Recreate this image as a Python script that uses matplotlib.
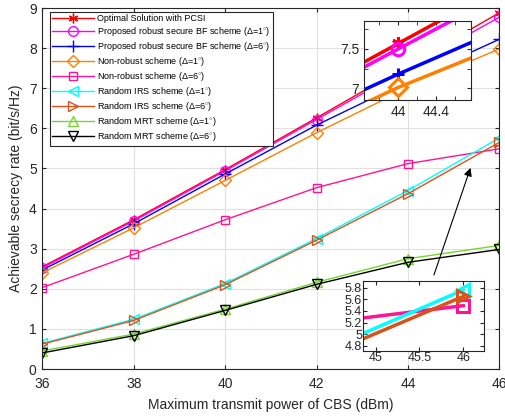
import matplotlib
matplotlib.use("Agg")
import matplotlib.pyplot as plt

plt.rcParams['font.family'] = ['Liberation Sans', 'DejaVu Sans']
plt.rcParams['mathtext.fontset'] = 'custom'
plt.rcParams['mathtext.rm'] = 'Liberation Sans'
plt.rcParams['mathtext.it'] = 'Liberation Sans:italic'

power = [36, 38, 40, 42, 44, 46]
optimal = [2.55, 3.72, 4.97, 6.26, 7.57, 8.88]
prop_d1 = [2.52, 3.69, 4.94, 6.22, 7.50, 8.77]
prop_d6 = [2.47, 3.62, 4.86, 6.08, 7.18, 8.22]
nonrob_d1 = [2.40, 3.52, 4.70, 5.89, 7.01, 7.98]
nonrob_d6 = [2.03, 2.86, 3.72, 4.52, 5.12, 5.49]
rirs_d1 = [0.64, 1.24, 2.13, 3.25, 4.45, 5.76]
rirs_d6 = [0.62, 1.21, 2.10, 3.21, 4.37, 5.65]
rmrt_d1 = [0.45, 0.87, 1.49, 2.16, 2.75, 3.08]
rmrt_d6 = [0.40, 0.83, 1.46, 2.11, 2.66, 2.98]

labels = [
    'Optimal Solution with PCSI',
    r'Proposed robust secure BF scheme ($\Delta$=1$^{\circ}$)',
    r'Proposed robust secure BF scheme ($\Delta$=6$^{\circ}$)',
    r'Non-robust scheme ($\Delta$=1$^{\circ}$)',
    r'Non-robust scheme ($\Delta$=6$^{\circ}$)',
    r'Random IRS scheme ($\Delta$=1$^{\circ}$)',
    r'Random IRS scheme ($\Delta$=6$^{\circ}$)',
    r'Random MRT scheme ($\Delta$=1$^{\circ}$)',
    r'Random MRT scheme ($\Delta$=6$^{\circ}$)',
]
series = [optimal, prop_d1, prop_d6, nonrob_d1, nonrob_d6, rirs_d1, rirs_d6, rmrt_d1, rmrt_d6]
colors = ['#FF0000', '#FF00FF', '#0000FF', '#FF8000', '#FF1493', '#00FFFF', '#D95319', '#77D62E', '#000000']
markers = [(6, 2, 0), 'o', '+', 'D', 's', '<', '>', '^', 'v']
msizes = [7, 7, 8, 6, 6, 7, 7, 7, 7]

fig = plt.figure(figsize=(5.06, 4.19), dpi=100)
ax = fig.add_axes([42.3/506, 1-369/419, (499.3-42.3)/506, (369-8)/419])

for y, c, m, ms, lab in zip(series, colors, markers, msizes, labels):
    ax.plot(power, y, color=c, marker=m, markersize=ms, markerfacecolor='none',
            markeredgecolor=c, linewidth=1.0, markeredgewidth=1.0, label=lab)

ax.set_xlim(36, 46)
ax.set_ylim(0, 9)
ax.set_xticks([36, 38, 40, 42, 44, 46])
ax.set_yticks(range(0, 10))
ax.grid(True, color='#E0E0E0', linewidth=0.8)
ax.set_axisbelow(True)
ax.tick_params(direction='in', labelsize=10, top=True, right=True, length=3, colors='#262626')
ax.tick_params(axis='x', pad=6)
ax.tick_params(axis='y', pad=4)
for sp in ax.spines.values():
    sp.set_color('#262626')
    sp.set_linewidth(0.8)
ax.set_xlabel('Maximum transmit power of CBS (dBm)', fontsize=10, color='#262626', labelpad=5)
ax.set_ylabel('Achievable secrecy rate (bit/s/Hz)', fontsize=10, color='#262626', labelpad=4)

leg = ax.legend(loc='upper left', bbox_to_anchor=(0.016, 0.99), fontsize=6.5,
                handlelength=4.6, handletextpad=0.4, labelspacing=0.22,
                borderpad=0.3, fancybox=False, framealpha=1, edgecolor='#262626',
                borderaxespad=0)
leg.get_frame().set_linewidth(0.8)

# inset 1
ax1 = fig.add_axes([364/506, 1-100/419, (470.7-364)/506, (100-20.7)/419])
for y, c, m in zip(series[:4], colors[:4], markers[:4]):
    ax1.plot(power, y, color=c, linewidth=2.5)
    ax1.plot([power[4]], [y[4]], color=c, marker=m, markersize=9,
             markerfacecolor='none', markeredgewidth=2.2, linestyle='none')
ax1.set_xlim(43.636, 44.77)
ax1.set_ylim(6.85, 7.86)
ax1.set_xticks([44, 44.4])
ax1.set_xticklabels(['44', '44.4'])
ax1.set_yticks([7, 7.5])
ax1.set_yticklabels(['7', '7.5'])
ax1.xaxis.set_minor_locator(matplotlib.ticker.MultipleLocator(0.2))
ax1.yaxis.set_minor_locator(matplotlib.ticker.MultipleLocator(0.25))
ax1.tick_params(which='both', direction='in', labelsize=10, top=True, right=True, length=3, colors='#262626')
ax1.tick_params(which='minor', labelleft=False, labelbottom=False)

# inset 2
ax2 = fig.add_axes([363.3/506, 1-351/419, (484-363.3)/506, (351-280.7)/419])
for y, c, m in zip(series[4:7], colors[4:7], markers[4:7]):
    ax2.plot(power, y, color=c, linewidth=2.5)
    ax2.plot([power[5]], [y[5]], color=c, marker=m, markersize=8,
             markerfacecolor='none', markeredgewidth=2.2, linestyle='none')
ax2.set_xlim(44.86, 46.236)
ax2.set_ylim(4.71, 5.92)
ax2.set_xticks([45, 45.5, 46])
ax2.set_xticklabels(['45', '45.5', '46'])
ax2.set_yticks([4.8, 5.0, 5.2, 5.4, 5.6, 5.8])
ax2.set_yticklabels(['4.8', '5', '5.2', '5.4', '5.6', '5.8'])
ax2.tick_params(direction='in', labelsize=9, top=True, right=True, length=3, colors='#262626', pad=1)
for a in (ax1, ax2):
    for sp in a.spines.values():
        sp.set_color('#262626')
        sp.set_linewidth(0.8)

ax.annotate('', xy=(45.39, 5.08), xytext=(44.55, 2.28),
            arrowprops=dict(arrowstyle='-|>', color='black', lw=0.8, mutation_scale=12))

fig.savefig('out.png', dpi=100)
